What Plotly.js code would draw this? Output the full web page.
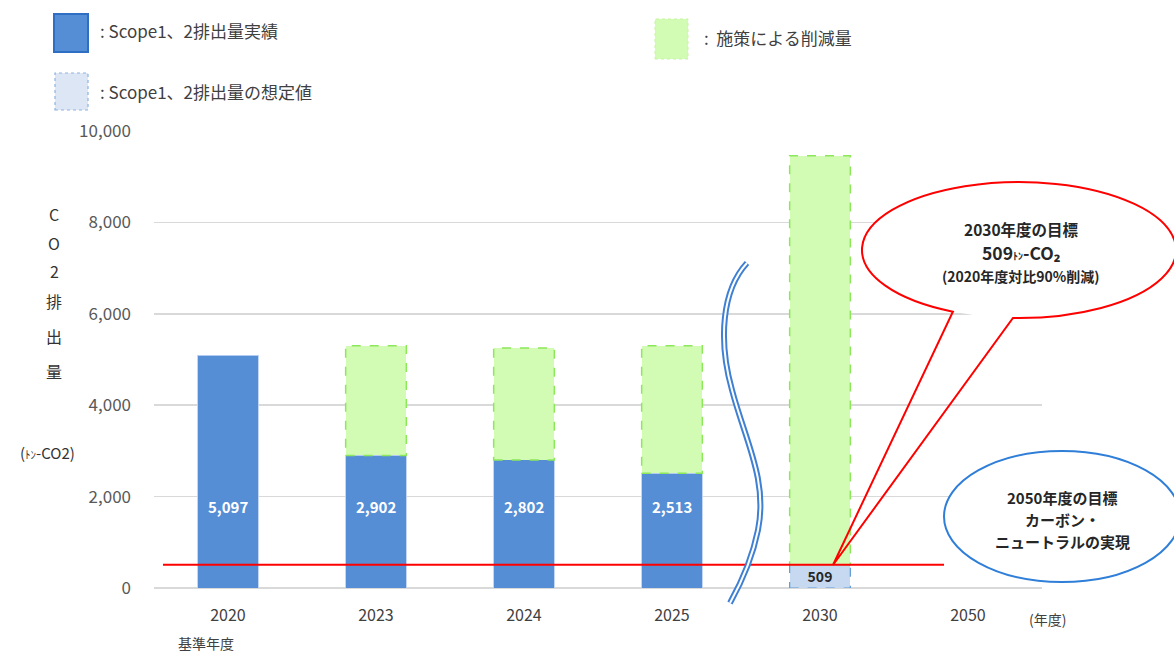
<!DOCTYPE html>
<html><head><meta charset="utf-8">
<script src="https://cdn.plot.ly/plotly-3.0.1.min.js"></script>
<style>html,body{margin:0;padding:0;background:#fff}#chart{width:1174px;height:652px}</style>
</head><body><div id="chart"></div>
<script>
// ---- data ----
const years = ['2020', '2023', '2024', '2025', '2030', '2050'];
const actual = [5097, 2902, 2802, 2513, null, null];      // Scope1、2排出量実績
const assumed = [null, null, null, null, 509, null];      // Scope1、2排出量の想定値
const reduction = [null, 2400, 2450, 2790, 8950, null];   // 施策による削減量
const target2030 = 509;
const yTicks = [0, 2000, 4000, 6000, 8000, 10000];

// ---- layout helpers (pixel -> paper) ----
const W = 1174, H = 652, ML = 154, MR = 132, MT = 131, MB = 64;
const PW = W - ML - MR, PH = H - MT - MB;
const px = x => (x - ML) / PW;
const py = y => (H - MB - y) / PH;
const pt = (x, y) => px(x).toFixed(5) + ',' + py(y).toFixed(5);
const FONT = '"Noto Sans CJK JP", "Noto Sans", sans-serif';
const BAR_W = 0.41;
const fmt = v => v.toLocaleString('en-US');

const BLUE = '#558ED5', LIGHT = '#C6D9F1', GREEN = '#D2FBB4', GREEN_LINE = '#8CE85A';

const traces = [
  { type: 'bar', x: years, y: actual, width: BAR_W, name: '実績',
    marker: { color: BLUE, line: { color: 'rgba(190,210,245,0.9)', width: 1 } }, hoverinfo: 'skip' },
  { type: 'bar', x: years, y: assumed, width: BAR_W, name: '想定値',
    marker: { color: LIGHT, line: { width: 0 } },
    texttemplate: '%{y:,}', textposition: 'inside', insidetextanchor: 'middle',
    constraintext: 'none', textangle: 0,
    textfont: { family: FONT, size: 14, color: '#262626', weight: 'bold' }, hoverinfo: 'skip' },
  { type: 'bar', x: years, y: reduction, width: BAR_W, name: '削減量',
    marker: { color: GREEN, line: { width: 0 } }, hoverinfo: 'skip' }
];

const shapes = [];
// dashed outlines of the reduction and assumed bars, from the data
years.forEach((c, i) => {
  const base = (actual[i] || 0) + (assumed[i] || 0);
  if (reduction[i] != null) {
    shapes.push({ type: 'rect', xref: 'x', yref: 'y', x0: i - BAR_W / 2, x1: i + BAR_W / 2,
      y0: base, y1: base + reduction[i], line: { color: GREEN_LINE, width: 1.5, dash: 'dash' } });
  }
  if (assumed[i] != null) {
    shapes.push({ type: 'rect', xref: 'x', yref: 'y', x0: i - BAR_W / 2, x1: i + BAR_W / 2,
      y0: actual[i] || 0, y1: (actual[i] || 0) + assumed[i], line: { color: '#5B9BD5', width: 1.2, dash: 'dash' } });
  }
});
// target line
shapes.push({ type: 'line', xref: 'paper', yref: 'y', x0: px(163), x1: px(944), y0: target2030, y1: target2030,
  line: { color: '#FF0000', width: 2 } });

// axis break mark (double wavy line)
const breakPath = 'M ' + pt(747, 263) + ' C ' + pt(722, 290) + ' ' + pt(718, 340) + ' ' + pt(732, 390) +
  ' C ' + pt(745, 440) + ' ' + pt(768, 480) + ' ' + pt(758, 530) +
  ' C ' + pt(752, 560) + ' ' + pt(740, 585) + ' ' + pt(730, 603);
shapes.push({ type: 'path', xref: 'paper', yref: 'paper', path: breakPath, line: { color: '#3F80D2', width: 6 } });
shapes.push({ type: 'path', xref: 'paper', yref: 'paper', path: breakPath, line: { color: '#FFFFFF', width: 2 } });

// red callout (ellipse + wedge)
const ecx = 1019, ecy = 250, erx = 157, ery = 68, tip = [833, 565];
shapes.push({ type: 'circle', xref: 'paper', yref: 'paper', x0: px(ecx - erx), x1: px(ecx + erx),
  y0: py(ecy + ery), y1: py(ecy - ery), fillcolor: '#FFFFFF', line: { width: 0 } });
(function () {
  const E = t => [ecx + erx * Math.cos(t), ecy + ery * Math.sin(t)];
  const D = t => [-erx * Math.sin(t), ery * Math.cos(t)];
  const tA = 114.9 * Math.PI / 180, tB = (92.2 + 360) * Math.PI / 180;
  const n = 5, step = (tB - tA) / n, k = 4 / 3 * Math.tan(step / 4);
  let p = 'M ' + pt(tip[0], tip[1]) + ' L ' + pt(...E(tA));
  for (let s = 0; s < n; s++) {
    const t1 = tA + s * step, t2 = t1 + step;
    const a = E(t1), da = D(t1), b = E(t2), db = D(t2);
    p += ' C ' + pt(a[0] + k * da[0], a[1] + k * da[1]) + ' ' + pt(b[0] - k * db[0], b[1] - k * db[1]) + ' ' + pt(b[0], b[1]);
  }
  p += ' L ' + pt(tip[0], tip[1]);
  shapes.push({ type: 'path', xref: 'paper', yref: 'paper', path: p, fillcolor: 'rgba(0,0,0,0)',
    line: { color: '#FF0000', width: 2 } });
})();
// blue ellipse
shapes.push({ type: 'circle', xref: 'paper', yref: 'paper', x0: px(944), x1: px(1180), y0: py(582), y1: py(451),
  fillcolor: '#FFFFFF', line: { color: '#2F7ED8', width: 2 } });

// legend swatches
shapes.push({ type: 'rect', xref: 'paper', yref: 'paper', x0: px(54), x1: px(88), y0: py(52), y1: py(14),
  fillcolor: BLUE, line: { color: '#2E6FC4', width: 2 } });
shapes.push({ type: 'rect', xref: 'paper', yref: 'paper', x0: px(55), x1: px(88), y0: py(110), y1: py(73),
  fillcolor: '#DCE6F4', line: { color: '#8DB3E2', width: 1.2, dash: 'dot' } });
shapes.push({ type: 'rect', xref: 'paper', yref: 'paper', x0: px(655), x1: px(688), y0: py(59), y1: py(19),
  fillcolor: GREEN, line: { color: '#C4F5A0', width: 1, dash: 'dot' } });

const ann = [];
const A = (x, y, text, size, opts) => ann.push(Object.assign({ xref: 'paper', yref: 'paper', x: px(x), y: py(y),
  text: text, showarrow: false, xanchor: 'center', yanchor: 'middle', borderpad: 0,
  font: { family: FONT, size: size, color: '#262626' } }, opts || {}));

// value labels in the actual bars (x given as category serial number)
years.forEach((c, i) => {
  if (actual[i] != null) ann.push({ xref: 'x', yref: 'y', x: i, y: 1780, text: '<b>' + fmt(actual[i]) + '</b>',
    showarrow: false, xanchor: 'center', yanchor: 'middle', font: { family: FONT, size: 15, color: '#FFFFFF' } });
});
// legend text
A(99, 31, ': Scope1、2排出量実績', 17, { xanchor: 'left', font: { family: FONT, size: 17, color: '#404040' } });
A(99, 92, ': Scope1、2排出量の想定値', 17, { xanchor: 'left', font: { family: FONT, size: 17, color: '#404040' } });
A(703, 37, ':  施策による削減量', 17, { xanchor: 'left', font: { family: FONT, size: 17, color: '#404040' } });
// y axis title (vertical)
const yt = ['C', 'O', '2', '排', '出', '量'];
const ytY = [214, 243, 271, 301, 336, 371];
yt.forEach((ch, i) => A(54, ytY[i], ch, 16, { font: { family: FONT, size: 16, color: '#333333' } }));
A(47, 452, '(<span style="font-size:11px">ﾄﾝ</span>-CO2)', 15, { font: { family: FONT, size: 15, color: '#333333' } });
// x axis extras
A(206, 643, '基準年度', 14, { font: { family: FONT, size: 14, color: '#404040' } });
A(1047, 619, '(年度)', 14, { font: { family: FONT, size: 14, color: '#404040' } });
// callout texts
A(1021, 229, '<b>2030年度の目標</b>', 15.5);
A(1021, 252.5, '<b>509<span style="font-size:10px">ﾄﾝ</span>-CO₂</b>', 17.5);
A(1021, 276, '<b>(2020年度対比90%削減)</b>', 14);
A(1062, 497, '<b>2050年度の目標</b>', 15);
A(1062, 519, '<b>カーボン・</b>', 15);
A(1062, 541, '<b>ニュートラルの実現</b>', 15);

const layout = {
  width: W, height: H, margin: { l: ML, r: MR, t: MT, b: MB, pad: 0 },
  paper_bgcolor: '#FFFFFF', plot_bgcolor: '#FFFFFF', showlegend: false, barmode: 'stack',
  font: { family: FONT },
  xaxis: { type: 'category', categoryorder: 'array', categoryarray: years, range: [-0.5, 5.5],
    showgrid: false, zeroline: false, showline: false, ticks: '', ticklabelstandoff: 16,
    tickfont: { family: FONT, size: 16, color: '#404040' }, fixedrange: true },
  yaxis: { range: [0, 10000], tickvals: yTicks, tickformat: ',d', showgrid: true, gridcolor: '#D9D9D9', gridwidth: 1.5,
    zeroline: true, zerolinecolor: '#D9D9D9', zerolinewidth: 1.5, showline: false, ticks: '', ticklabelstandoff: 22,
    tickfont: { family: FONT, size: 17, color: '#595959' }, fixedrange: true },
  shapes: shapes, annotations: ann
};
Plotly.newPlot('chart', traces, layout, { displayModeBar: false, staticPlot: true });
</script></body></html>
